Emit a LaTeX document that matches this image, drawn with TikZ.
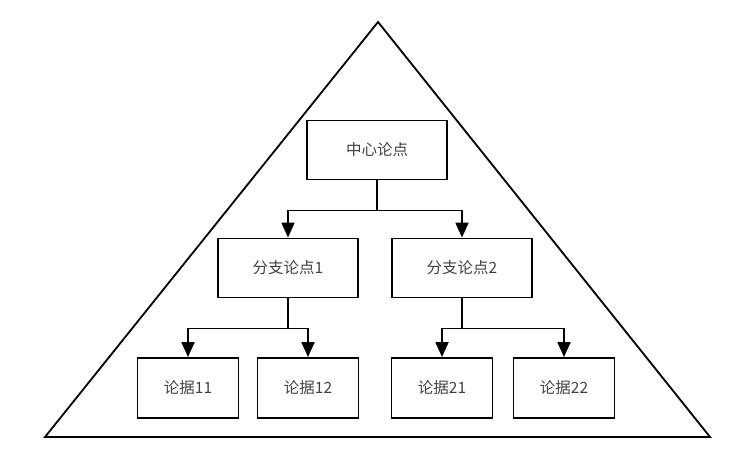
\documentclass[tikz,border=0pt]{standalone}
\usepackage{fontspec}
\setmainfont{Noto Sans CJK SC}
\usetikzlibrary{positioning, shapes, arrows.meta}

\begin{document}
\begin{tikzpicture}[x=1pt, y=-1pt, >={Triangle[width=13pt,length=15pt]},
    box/.style={draw, line width=1.8pt, minimum height=59pt, text=black!75, font=\fontsize{15.5}{18}\selectfont},
    link/.style={line width=1.8pt}]
        \useasboundingbox (0,0) rectangle (754,464);
        \draw [line width=1.8pt] (378,22) -- (710,437) -- (45,437) -- cycle;

        \node [box, minimum width=140pt] (center) at (377,150) {中心论点};

        \foreach \m/\x in {1/288,2/462}
          \node [box, minimum width=140pt] (branch-\m) at (\x,268) {分支论点\m};

        \foreach \m/\x in {11/188,12/308,21/442,22/564}
          \node [box, minimum width=101pt, minimum height=60pt] (leaf-\m) at (\x,388) {论据\m};

        \draw [link] (center.south) -- ++(0,30) coordinate (split);
        \foreach \m in {1,2}
          \draw [link, ->] (split) -| (branch-\m.north);

        \foreach \b/\i/\j in {1/11/12,2/21/22} {
          \draw [link] (branch-\b.south) -- ++(0,30) coordinate (split-\b);
          \draw [link, ->] (split-\b) -| (leaf-\i.north);
          \draw [link, ->] (split-\b) -| (leaf-\j.north);
        }

\end{tikzpicture}
\end{document}
